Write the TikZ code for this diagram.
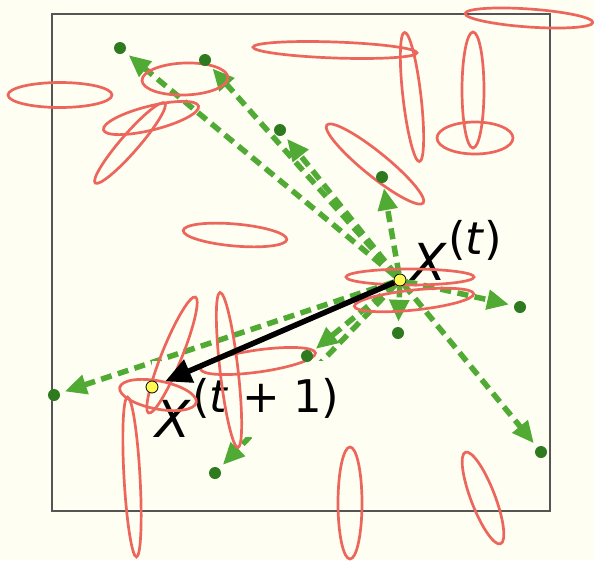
\documentclass[tikz,border=0pt]{standalone}
\usepackage{fontspec}
\setmainfont{DejaVu Sans}
\usetikzlibrary{arrows.meta}
\definecolor{bgc}{RGB}{254,254,243}
\definecolor{ellc}{RGB}{236,102,92}
\definecolor{garr}{RGB}{80,170,52}
\definecolor{gdotc}{RGB}{46,122,30}
\definecolor{ydot}{RGB}{255,250,80}
\definecolor{framec}{RGB}{85,85,85}
\pgfdeclarelayer{back}
\pgfdeclarelayer{front}
\pgfsetlayers{back,main,front}
\tikzset{
  ell/.style={draw=ellc, line width=2.7pt},
  garrow/.style={draw=garr, line width=5.5pt, dash pattern=on 11pt off 6.5pt,
    -{Triangle[length=22pt,width=19pt]}, shorten >=5pt},
  barrow/.style={draw=black, line width=5.5pt,
    -{Triangle[length=26pt,width=24pt]}, shorten >=8pt},
  gdot/.style={circle, fill=gdotc, inner sep=0pt, minimum size=12pt},
  ydotn/.style={circle, fill=ydot, draw=black, line width=0.8pt, inner sep=0pt, minimum size=12pt},
  lab/.style={fill=bgc, inner xsep=3pt, inner ysep=0pt, text height=76pt, text depth=0pt, anchor=base west},
}
\begin{document}
\begin{tikzpicture}[x=1pt,y=-1pt]
\useasboundingbox (0,0) rectangle (594,560);
% dots on top
\begin{pgfonlayer}{front}
  \node[ydotn] (c) at (400,280) {};
  \node[ydotn] (d) at (152,387) {};
  \node[gdot] (g1) at (120,48) {};
  \node[gdot] (g2) at (205,60) {};
  \node[gdot] (g3) at (280,130) {};
  \node[gdot] (g4) at (382,177) {};
  \node[gdot] (g5) at (520,307) {};
  \node[gdot] (g6) at (398,333) {};
  \node[gdot] (g7) at (307,356) {};
  \node[gdot] (g8) at (541,452) {};
  \node[gdot] (g9) at (54,395) {};
  \node[gdot] (g10) at (215,473) {};
\end{pgfonlayer}
\begin{pgfonlayer}{back}
  \fill[bgc] (0,0) rectangle (594,560);
  \draw[framec, line width=1.2pt] (52,14) rectangle (550,511);
  \foreach \g in {g1,g2,g3,g4,g5,g6,g7,g8,g9,g10}
    \draw[garrow] (c) -- (\g);
  \node[lab] (xt) at (408,280) {\fontsize{51}{51}\selectfont\textit{X}\hspace{1pt}\raisebox{26pt}{\fontsize{45}{45}\selectfont(\textit{t})}};
  \node[lab] (xt1) at (152,437) {\fontsize{51}{51}\selectfont\textit{X}\hspace{1pt}\raisebox{25pt}{\fontsize{45}{45}\selectfont(\textit{t}\hspace{0.3em}+\hspace{0.3em}1)}};
\end{pgfonlayer}
% ellipses
\draw[ell] (60,95) ellipse [x radius=52, y radius=12.5];
\draw[ell] (185,79) ellipse [x radius=43, y radius=16, rotate=2];
\draw[ell] (151,118) ellipse [x radius=49, y radius=12, rotate=14];
\draw[ell] (130,143) ellipse [x radius=53, y radius=9, rotate=49];
\draw[ell] (235,235) ellipse [x radius=52, y radius=11, rotate=-5];
\draw[ell] (335,50) ellipse [x radius=82, y radius=8, rotate=-2];
\draw[ell] (412,97) ellipse [x radius=9, y radius=65, rotate=6.6];
\draw[ell] (473,90) ellipse [x radius=11, y radius=58];
\draw[ell] (475,138) ellipse [x radius=38, y radius=16];
\draw[ell] (529,18) ellipse [x radius=64, y radius=9, rotate=-4];
\draw[ell] (375,164) ellipse [x radius=62, y radius=12, rotate=-39];
\draw[ell] (410,277) ellipse [x radius=64, y radius=8];
\draw[ell] (414,300) ellipse [x radius=60, y radius=10, rotate=6];
\draw[ell] (172,355) ellipse [x radius=62.5, y radius=10, rotate=68];
\draw[ell] (229,370) ellipse [x radius=9, y radius=78, rotate=6.6];
\draw[ell] (258,361) ellipse [x radius=58, y radius=11, rotate=8];
\draw[ell] (158,395) ellipse [x radius=39, y radius=14, rotate=-11];
\draw[ell] (132,477) ellipse [x radius=8, y radius=80, rotate=3.2];
\draw[ell] (350,503) ellipse [x radius=12, y radius=56];
\draw[ell] (483,498) ellipse [x radius=12, y radius=49, rotate=21];
% black step arrow
\draw[barrow] (c) -- (d);
\end{tikzpicture}
\end{document}
